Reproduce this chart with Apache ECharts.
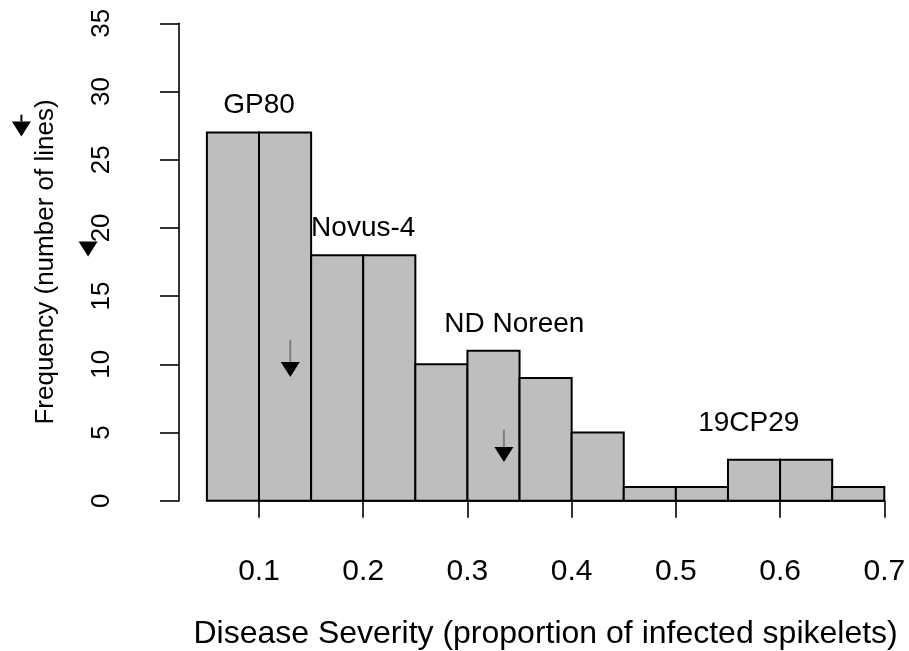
<!DOCTYPE html>
<html>
<head>
<meta charset="utf-8">
<script src="https://cdn.jsdelivr.net/npm/echarts@6/dist/echarts.min.js"></script>
<style>html,body{margin:0;padding:0;background:#fff;}#chart{width:909px;height:651px;}</style>
</head>
<body>
<div id="chart"></div>
<script>
// ---- data ----
const binEdges = [0.05, 0.10, 0.15, 0.20, 0.25, 0.30, 0.35, 0.40, 0.45, 0.50, 0.55, 0.60, 0.65, 0.70];
const counts   = [27, 27, 18, 18, 10, 11, 9, 5, 1, 1, 3, 3, 1];
const labelNames = ["GP80", "Novus-4", "ND Noreen", "19CP29"];
const labelX     = [0.10, 0.20, 0.345, 0.57];
const labelY     = [29.0, 20.0, 12.9, 5.7];
const arrowX     = [0.13, 0.335, -0.128, -0.064];
const arrowTop   = [11.8, 5.2, 28.3, 19.0];
const arrowTip   = [9.07, 2.84, 26.7, 17.9];
const xTickMin = 0.1, xTickMax = 0.7, xTickStep = 0.1;
const yMin = 0, yMax = 35, yStep = 5;
const xTitle = "Disease Severity (proportion of infected spikelets)";
const yTitle = "Frequency (number of lines)";

const FONT = '"Liberation Sans", Arial, Helvetica, sans-serif';

const histData = counts.map((c, i) => [binEdges[i], binEdges[i + 1], c]);
const labelData = labelNames.map((n, i) => [labelX[i], labelY[i], n]);
const arrowData = arrowX.map((x, i) => [x, arrowTop[i], arrowTip[i], i < 2 ? 1 : 0]);

const chart = echarts.init(document.getElementById('chart'), null, {renderer: 'canvas'});
const gridTop = 23.3, gridBottom = 651 - 500.7, gridRight = 909 - 884.3;
chart.setOption({
  animation: false,
  backgroundColor: '#ffffff',
  grid: [
    {left: 206.9, right: gridRight, top: gridTop, bottom: gridBottom, containLabel: false, outerBoundsMode: 'none'},
    {left: 259.0, right: gridRight, top: gridTop, bottom: gridBottom, containLabel: false, outerBoundsMode: 'none'}
  ],
  xAxis: [
    {
      type: 'value', gridIndex: 0, min: binEdges[0], max: binEdges[binEdges.length - 1],
      axisLine: {show: false}, axisTick: {show: false}, axisLabel: {show: false}, splitLine: {show: false},
      name: xTitle, nameLocation: 'middle', nameGap: 117,
      nameTextStyle: {fontFamily: FONT, fontSize: 32, color: '#000'}
    },
    {
      type: 'value', gridIndex: 1, min: xTickMin, max: xTickMax, interval: xTickStep, offset: 19.3,
      axisLine: {show: true, lineStyle: {color: '#000', width: 1.6}},
      axisTick: {show: true, length: 17, lineStyle: {color: '#000', width: 1.6}},
      axisLabel: {fontFamily: FONT, fontSize: 30, color: '#000', margin: 37,
        formatter: v => (Math.round(v * 10) / 10).toFixed(1)},
      splitLine: {show: false}
    }
  ],
  yAxis: [
    {
      type: 'value', gridIndex: 0, min: yMin, max: yMax, interval: yStep, offset: 27.9,
      axisLine: {show: true, lineStyle: {color: '#000', width: 1.6}},
      axisTick: {show: true, length: 19, lineStyle: {color: '#000', width: 1.6}},
      axisLabel: {fontFamily: FONT, fontSize: 26, color: '#000', rotate: 90, margin: 64},
      splitLine: {show: false},
      name: yTitle, nameLocation: 'middle', nameGap: 120,
      nameTextStyle: {fontFamily: FONT, fontSize: 26, color: '#000'}
    },
    {
      type: 'value', gridIndex: 1, min: yMin, max: yMax, show: false
    }
  ],
  series: [
    {
      type: 'custom', xAxisIndex: 0, yAxisIndex: 0, data: histData,
      renderItem: function (params, api) {
        const p0 = api.coord([api.value(0), 0]);
        const p1 = api.coord([api.value(1), api.value(2)]);
        return {
          type: 'rect',
          shape: {x: p0[0], y: p1[1], width: p1[0] - p0[0], height: p0[1] - p1[1]},
          style: {fill: '#bebebe', stroke: '#000', lineWidth: 2}
        };
      }
    },
    {
      type: 'custom', xAxisIndex: 0, yAxisIndex: 0, data: labelData, clip: false,
      renderItem: function (params, api) {
        const p = api.coord([api.value(0), api.value(1)]);
        return {
          type: 'text', x: p[0], y: p[1],
          style: {text: labelNames[params.dataIndex], fill: '#000', font: '28px ' + FONT,
            align: 'center', verticalAlign: 'middle'}
        };
      }
    },
    {
      type: 'custom', xAxisIndex: 0, yAxisIndex: 0, data: arrowData, clip: false,
      renderItem: function (params, api) {
        const top = api.coord([api.value(0), api.value(1)]);
        const tip = api.coord([api.value(0), api.value(2)]);
        const headH = 15, headW = 19;
        const gray = api.value(3) === 1;
        const children = [];
        if (tip[1] - headH > top[1]) {
          children.push({type: 'line', shape: {x1: top[0], y1: top[1], x2: tip[0], y2: tip[1] - headH},
            style: {stroke: gray ? '#7f7f7f' : '#000', lineWidth: 2}});
        }
        children.push({type: 'polygon', shape: {points: [[tip[0] - headW / 2, tip[1] - headH], [tip[0] + headW / 2, tip[1] - headH], [tip[0], tip[1]]]},
          style: {fill: '#000'}});
        return {type: 'group', children: children};
      }
    }
  ]
});
</script>
</body>
</html>
